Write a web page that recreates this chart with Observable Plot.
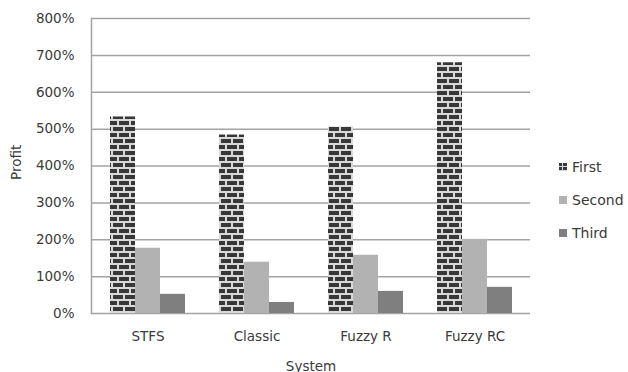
<!DOCTYPE html>
<html>
<head>
<meta charset="utf-8">
<script src="https://cdn.jsdelivr.net/npm/d3@7"></script>
<script src="https://cdn.jsdelivr.net/npm/@observablehq/plot@0.6"></script>
<style>
  html, body { margin: 0; padding: 0; background: #fff; }
  #chart { position: relative; width: 628px; height: 372px; font-family: "DejaVu Sans", sans-serif; }
  .legend { position: absolute; left: 559px; top: 150px; font-size: 14px; color: #3a3a3a; }
  .legend .item { display: flex; align-items: center; height: 33px; }
  .legend .sw { width: 8px; height: 8px; margin-right: 5px; }
</style>
</head>
<body>
<div id="chart"></div>
<script>
// Profit per system and round
const systems = ["STFS", "Classic", "Fuzzy R", "Fuzzy RC"];
const series = ["First", "Second", "Third"];
const first = [5.33, 4.84, 5.06, 6.80];
const second = [1.77, 1.39, 1.58, 2.01];
const third = [0.52, 0.30, 0.60, 0.71];
const yTicks = [0, 1, 2, 3, 4, 5, 6, 7, 8];

const values = {First: first, Second: second, Third: third};
const fills = {First: "url(#brick)", Second: "#b2b2b2", Third: "#7f7f7f"};
const offsets = {First: -25, Second: 0, Third: 25};

const rows = series.flatMap(s => systems.map((sys, i) => ({system: sys, series: s, value: values[s][i]})));

const bars = series.map(s => Plot.barY(rows.filter(d => d.series === s), {
  x: "system", y: "value", fill: fills[s], dx: offsets[s]
}));

const chart = Plot.plot({
  width: 628,
  height: 372,
  marginLeft: 91,
  marginRight: 98,
  marginTop: 18,
  marginBottom: 59,
  style: {fontFamily: "DejaVu Sans, sans-serif", fontSize: "13.5px", color: "#3a3a3a", background: "#fff"},
  x: {domain: systems, paddingInner: 1 - 25 / 110, paddingOuter: (1 - 25 / 110) / 2, label: null},
  y: {domain: [0, 8], label: null},
  marks: [
    Plot.ruleY(yTicks, {stroke: "#a3a3a3", strokeWidth: 1.5}),
    Plot.frame({anchor: "left", stroke: "#a3a3a3", strokeWidth: 1.5}),
    ...bars,
    Plot.axisY({ticks: yTicks, tickSize: 0, tickPadding: 17, tickFormat: d => `${d * 100}%`, label: null}),
    Plot.axisX({tickSize: 0, tickPadding: 18, label: null}),
    Plot.text(["Profit"], {text: d => d, frameAnchor: "left", dx: -75, dy: 14, rotate: -90, fill: "#3a3a3a"}),
    Plot.text(["System"], {text: d => d, frameAnchor: "bottom", dy: 57, fill: "#3a3a3a"})
  ]
});

// brick fill used by the "First" bars
const ns = "http://www.w3.org/2000/svg";
const defs = document.createElementNS(ns, "defs");
defs.innerHTML = `
  <pattern id="brick" width="12" height="12" patternUnits="userSpaceOnUse">
    <rect width="12" height="12" fill="#d9d9d9"/>
    <rect x="0" y="1" width="10" height="4" fill="#383838"/>
    <rect x="-6" y="7" width="10" height="4" fill="#383838"/>
    <rect x="6" y="7" width="10" height="4" fill="#383838"/>
  </pattern>
  <pattern id="brickSw" width="8" height="8" patternUnits="userSpaceOnUse">
    <rect width="8" height="8" fill="#d9d9d9"/>
    <rect x="0" y="0" width="3" height="3" fill="#383838"/>
    <rect x="4" y="0" width="4" height="3" fill="#383838"/>
    <rect x="0" y="4" width="3" height="3" fill="#383838"/>
    <rect x="4" y="4" width="4" height="3" fill="#383838"/>
  </pattern>`;
chart.insertBefore(defs, chart.firstChild);

const root = document.getElementById("chart");
root.appendChild(chart);

const legend = document.createElement("div");
legend.className = "legend";
for (const s of series) {
  const item = document.createElement("div");
  item.className = "item";
  const sw = document.createElementNS(ns, "svg");
  sw.setAttribute("class", "sw");
  sw.setAttribute("width", 8);
  sw.setAttribute("height", 8);
  sw.innerHTML = `<rect width="8" height="8" fill="${s === "First" ? "url(#brickSw)" : fills[s]}"/>`;
  const label = document.createElement("span");
  label.textContent = s;
  item.appendChild(sw);
  item.appendChild(label);
  legend.appendChild(item);
}
root.appendChild(legend);
</script>
</body>
</html>
